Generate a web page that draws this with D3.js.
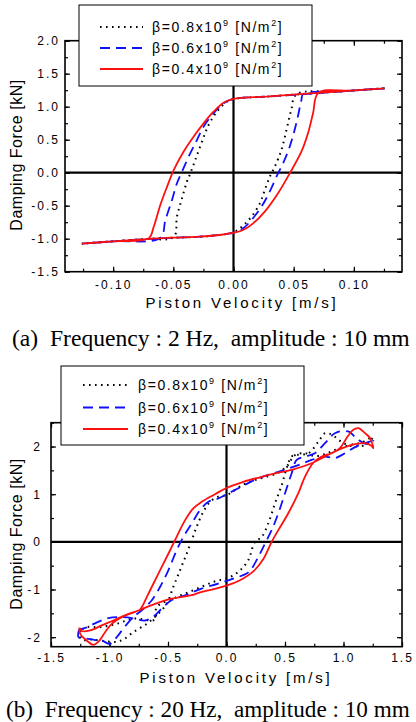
<!DOCTYPE html>
<html>
<head>
<meta charset="utf-8">
<script src="https://cdn.jsdelivr.net/npm/d3@7"></script>
<style>
body{margin:0;background:#fff;}
svg{display:block;}
</style>
</head>
<body>
<svg id="fig" width="416" height="722"></svg>
<script>
// series comunes
const betas = ["0.8", "0.6", "0.4"];
const colores = ["#000000", "#1010ff", "#ff1010"];
const trazos = ["1.6,4.4", "10,6", null];

// (a) 2 Hz : [velocidad m/s, fuerza kN]
const ticksXa = [-0.10, -0.05, 0.00, 0.05, 0.10];
const etiqXa = ["-0.10", "-0.05", "0.00", "0.05", "0.10"];
const ticksYa = [-1.5, -1.0, -0.5, 0.0, 0.5, 1.0, 1.5, 2.0];
const etiqYa = ["-1.5", "-1.0", "-0.5", "0.0", "0.5", "1.0", "1.5", "2.0"];

const a08 = [[0.1255,1.279],[0.09,1.233],[0.0522,1.185],[0.048,0.95],[0.044,0.647],[0.0398,0.344],
  [0.0343,0.09],[0.0302,-0.06],[0.026,-0.262],[0.0219,-0.464],[0.0149,-0.667],[0.008,-0.8],[0,-0.905],
  [-0.01,-0.94],[-0.028,-0.97],[-0.05,-0.985],[-0.072,-1.005],[-0.1,-1.04],[-0.126,-1.075],
  [-0.1,-1.04],[-0.072,-1.005],[-0.0497,-0.975],[-0.047,-0.667],[-0.0428,-0.388],[-0.0387,-0.136],
  [-0.0359,-0.01],[-0.0318,0.192],[-0.0262,0.47],[-0.0207,0.723],[-0.0138,0.924],[-0.0055,1.076],
  [0,1.117],[0.03,1.155],[0.0522,1.185],[0.09,1.233],[0.1255,1.279]];

const a06 = [[0.1255,1.279],[0.09,1.233],[0.0578,1.19],[0.0564,1.1],[0.0522,0.748],[0.0467,0.394],
  [0.0412,0.142],[0.037,-0.01],[0.0301,-0.288],[0.0232,-0.515],[0.0149,-0.717],[0.008,-0.843],[0,-0.909],
  [-0.01,-0.94],[-0.028,-0.97],[-0.05,-0.985],[-0.072,-1.005],[-0.1,-1.04],[-0.126,-1.075],
  [-0.1,-1.04],[-0.0608,-0.985],[-0.0566,-0.717],[-0.0511,-0.414],[-0.047,-0.16],[-0.0428,0.015],
  [-0.0373,0.242],[-0.0304,0.495],[-0.0249,0.697],[-0.0166,0.9],[-0.0083,1.05],
  [0,1.117],[0.03,1.155],[0.0578,1.19],[0.09,1.233],[0.1255,1.279]];

const a04 = [[0.1255,1.279],[0.098,1.245],[0.0705,1.21],[0.0661,0.9],[0.0619,0.597],[0.0564,0.318],
  [0.0467,-0.01],[0.037,-0.312],[0.026,-0.59],[0.0163,-0.767],[0.008,-0.868],[0,-0.909],
  [-0.01,-0.94],[-0.028,-0.97],[-0.05,-0.985],[-0.072,-1.005],[-0.1,-1.04],[-0.126,-1.075],
  [-0.1,-1.04],[-0.0705,-0.995],[-0.0663,-0.818],[-0.0608,-0.489],[-0.0552,-0.212],[-0.0497,0.04],
  [-0.0415,0.318],[-0.0332,0.545],[-0.0249,0.748],[-0.0166,0.924],[-0.0083,1.06],
  [0,1.117],[0.03,1.155],[0.0705,1.21],[0.098,1.245],[0.1255,1.279]];

// (b) 20 Hz
const ticksXb = [-1.5, -1.0, -0.5, 0.0, 0.5, 1.0, 1.5];
const etiqXb = ["-1.5", "-1.0", "-0.5", "0.0", "0.5", "1.0", "1.5"];
const ticksYb = [-2, -1, 0, 1, 2];
const etiqYb = ["-2", "-1", "0", "1", "2"];

const b08 = [[-1.252,-1.86],[-1.238,-2.05],[-1.15,-2.05],[-1.05,-2.08],[-0.95,-2.1],[-0.882,-2.05],
  [-0.797,-1.895],[-0.682,-1.72],[-0.597,-1.54],[-0.511,-1.3],[-0.455,-0.947],[-0.397,-0.596],
  [-0.34,-0.245],[-0.297,0.036],[-0.255,0.316],[-0.198,0.63],[-0.141,0.84],[-0.07,0.947],[0,0.98],
  [0.144,1.2],[0.286,1.33],[0.443,1.45],[0.52,1.6],[0.585,1.82],[0.671,1.86],[0.756,1.8],[0.85,1.85],
  [0.95,1.95],[1.05,2.03],[1.15,2.08],[1.25,2.2],[1.2,2.05],[1.1,2.0],[1.0,2.07],[0.9,2.25],[0.842,2.28],
  [0.785,2.1],[0.7,1.86],[0.6,1.82],[0.557,1.79],[0.514,1.545],[0.472,1.19],[0.415,0.81],[0.357,0.387],
  [0.3,0.1],[0.244,0],[0.186,-0.385],[0.115,-0.6],[0.03,-0.737],[-0.113,-0.842],[-0.284,-1.017],
  [-0.455,-1.19],[-0.597,-1.37],[-0.611,-1.63],[-0.797,-1.61],[-0.938,-1.72],[-1.081,-1.79],
  [-1.195,-1.79],[-1.252,-1.86]];

const b06 = [[-1.26,-1.84],[-1.265,-2.0],[-1.2,-2.03],[-1.12,-2.06],[-1.067,-2.07],[-0.996,-2.14],
  [-0.938,-2.0],[-0.882,-1.82],[-0.797,-1.58],[-0.726,-1.44],[-0.64,-1.23],[-0.568,-0.947],
  [-0.497,-0.596],[-0.426,-0.175],[-0.369,0.105],[-0.297,0.386],[-0.226,0.667],[-0.155,0.84],
  [-0.07,0.91],[0.015,1.017],[0.13,1.16],[0.272,1.335],[0.443,1.47],[0.614,1.61],[0.728,1.72],
  [0.842,1.79],[0.927,1.76],[1.013,1.86],[1.098,1.987],[1.184,2.07],[1.255,2.126],[1.2,2.05],
  [1.12,2.15],[1.041,2.316],[0.927,2.28],[0.842,2.07],[0.756,1.86],[0.671,1.79],[0.6,1.72],
  [0.557,1.44],[0.5,1.02],[0.443,0.6],[0.386,0.246],[0.329,-0.035],[0.272,-0.316],[0.215,-0.56],
  [0.172,-0.665],[0.058,-0.77],[-0.07,-0.876],[-0.212,-0.98],[-0.355,-1.12],[-0.468,-1.22],
  [-0.554,-1.4],[-0.611,-1.54],[-0.697,-1.65],[-0.782,-1.61],[-0.896,-1.58],[-1.01,-1.6],
  [-1.124,-1.71],[-1.2,-1.8],[-1.26,-1.84]];

const b04 = [[-1.258,-1.8],[-1.25,-1.93],[-1.195,-2.07],[-1.138,-2.16],[-1.096,-2.1],[-1.038,-1.895],
  [-0.981,-1.72],[-0.896,-1.58],[-0.782,-1.47],[-0.739,-1.42],[-0.668,-1.09],[-0.583,-0.67],
  [-0.497,-0.25],[-0.44,0.036],[-0.355,0.45],[-0.284,0.703],[-0.212,0.84],[-0.098,1.0],[0,1.13],
  [0.144,1.26],[0.286,1.355],[0.443,1.45],[0.557,1.51],[0.728,1.65],[0.842,1.79],[0.956,1.93],
  [1.07,2.036],[1.184,2.07],[1.241,2.01],[1.255,1.966],[1.226,2.18],[1.184,2.28],[1.127,2.387],
  [1.084,2.35],[1.027,2.18],[0.97,1.966],[0.899,1.86],[0.814,1.79],[0.742,1.66],[0.671,1.37],
  [0.614,1.02],[0.528,0.6],[0.443,0.246],[0.386,0],[0.315,-0.36],[0.229,-0.62],[0.115,-0.806],
  [0,-0.92],[-0.126,-1.0],[-0.226,-1.06],[-0.297,-1.12],[-0.468,-1.19],[-0.611,-1.3],[-0.754,-1.44],
  [-0.868,-1.54],[-0.967,-1.65],[-1.067,-1.754],[-1.167,-1.86],[-1.238,-1.87],[-1.258,-1.8]];

const svg = d3.select("#fig");
const fuente = "Arial, 'Liberation Sans', sans-serif";

const grafica = (cfg) => {
  const x = d3.scaleLinear().domain(cfg.domX).range([cfg.izq, cfg.der]);
  const y = d3.scaleLinear().domain(cfg.domY).range([cfg.abajo, cfg.arriba]);
  const g = svg.append("g");

  // ticks menores, hacia adentro
  g.append("g").attr("transform", `translate(0,${cfg.abajo})`)
    .call(d3.axisBottom(x).tickValues(cfg.menX).tickSize(-3).tickSizeOuter(0).tickFormat(""));
  g.append("g").attr("transform", `translate(0,${cfg.arriba})`)
    .call(d3.axisTop(x).tickValues(cfg.menX).tickSize(-3).tickSizeOuter(0).tickFormat(""));
  g.append("g").attr("transform", `translate(${cfg.izq},0)`)
    .call(d3.axisLeft(y).tickValues(cfg.menY).tickSize(-3).tickSizeOuter(0).tickFormat(""));
  g.append("g").attr("transform", `translate(${cfg.der},0)`)
    .call(d3.axisRight(y).tickValues(cfg.menY).tickSize(-3).tickSizeOuter(0).tickFormat(""));

  // ticks mayores con etiquetas
  g.append("g").attr("transform", `translate(0,${cfg.abajo})`)
    .call(d3.axisBottom(x).tickValues(cfg.ticksX).tickSize(-5).tickSizeOuter(0)
      .tickPadding(cfg.padX).tickFormat((d, i) => cfg.etiqX[i]));
  g.append("g").attr("transform", `translate(0,${cfg.arriba})`)
    .call(d3.axisTop(x).tickValues(cfg.ticksX).tickSize(-5).tickSizeOuter(0).tickFormat(""));
  g.append("g").attr("transform", `translate(${cfg.izq},0)`)
    .call(d3.axisLeft(y).tickValues(cfg.ticksY).tickSize(-5).tickSizeOuter(0)
      .tickPadding(cfg.padY).tickFormat((d, i) => cfg.etiqY[i]));
  g.append("g").attr("transform", `translate(${cfg.der},0)`)
    .call(d3.axisRight(y).tickValues(cfg.ticksY).tickSize(-5).tickSizeOuter(0).tickFormat(""));

  g.selectAll(".domain").remove();
  g.selectAll(".tick line").attr("stroke", "#000").attr("stroke-width", 1.2);
  g.selectAll(".tick text").attr("fill", "#000")
    .style("font-family", fuente).style("font-size", "12px").style("letter-spacing", "2px");

  // lineas del cero
  g.append("line").attr("x1", x(0)).attr("x2", x(0)).attr("y1", y(cfg.domY[0])).attr("y2", y(cfg.domY[1]))
    .attr("stroke", "#000").attr("stroke-width", 2.2);
  g.append("line").attr("x1", x(cfg.domX[0])).attr("x2", x(cfg.domX[1])).attr("y1", y(0)).attr("y2", y(0))
    .attr("stroke", "#000").attr("stroke-width", 2.2);

  // curvas
  const linea = d3.line().x(d => x(d[0])).y(d => y(d[1])).curve(d3.curveCatmullRom.alpha(0.5));
  cfg.series.forEach((serie, i) => {
    g.append("path").datum(serie).attr("d", linea)
      .attr("fill", "none").attr("stroke", colores[i]).attr("stroke-width", i == 0 ? 2 : 1.8)
      .attr("stroke-dasharray", trazos[i]);
  });

  // marco
  g.append("rect").attr("x", cfg.izq).attr("y", cfg.arriba)
    .attr("width", cfg.der - cfg.izq).attr("height", cfg.abajo - cfg.arriba)
    .attr("fill", "none").attr("stroke", "#000").attr("stroke-width", 1.6);

  // leyenda
  const L = cfg.leyenda;
  g.append("rect").attr("x", L.x).attr("y", L.y).attr("width", L.w).attr("height", L.h)
    .attr("fill", "#fff").attr("stroke", "#000").attr("stroke-width", 1);
  betas.forEach((b, i) => {
    const fy = L.filas[i];
    g.append("line").attr("x1", L.l1).attr("x2", L.l2).attr("y1", fy).attr("y2", fy)
      .attr("stroke", colores[i]).attr("stroke-width", 2).attr("stroke-dasharray", trazos[i]);
    const t = g.append("text").attr("x", L.tx).attr("y", fy + 5)
      .style("font-family", fuente).style("font-size", "14px").style("letter-spacing", "1.6px");
    t.append("tspan").text("\u03b2=" + b + "x10");
    t.append("tspan").attr("dy", -6).style("font-size", "9px").text("9");
    t.append("tspan").attr("dy", 6).text(" [N/m");
    t.append("tspan").attr("dy", -6).style("font-size", "9px").text("2");
    t.append("tspan").attr("dy", 6).text("]");
  });

  // titulos de ejes
  g.append("text").attr("x", cfg.xt[0]).attr("y", cfg.xt[1]).attr("text-anchor", "middle")
    .style("font-family", fuente).style("font-size", "15px").style("letter-spacing", "2.8px")
    .text("Piston Velocity [m/s]");
  g.append("text").attr("transform", `translate(${cfg.yt[0]},${cfg.yt[1]}) rotate(-90)`)
    .attr("text-anchor", "middle")
    .style("font-family", fuente).style("font-size", "16px").style("letter-spacing", "0.5px")
    .text("Damping Force [kN]");

  // pie
  g.append("text").attr("x", cfg.pie[0]).attr("y", cfg.pie[1])
    .style("font-family", "'Times New Roman', 'Liberation Serif', serif").style("font-size", cfg.pieTam + "px")
    .style("white-space", "pre").text(cfg.pieTexto);
};

const menoresA = d3.range(-0.125, 0.126, 0.025).map(v => +v.toFixed(3));
const menoresYA = d3.range(-1.5, 2.01, 0.25).map(v => +v.toFixed(2));
grafica({
  domX: [-0.14, 0.14], domY: [-1.5, 2.0],
  izq: 65, der: 402, arriba: 40.7, abajo: 271.7,
  ticksX: ticksXa, etiqX: etiqXa, menX: menoresA, padX: 9,
  ticksY: ticksYa, etiqY: etiqYa, menY: menoresYA, padY: 5,
  series: [a08, a06, a04],
  leyenda: {x: 79, y: 5, w: 233, h: 81, l1: 100, l2: 143, tx: 152, filas: [27, 48, 69]},
  xt: [242, 308], yt: [22, 155],
  pie: [12, 345.7], pieTam: 23.6, pieTexto: "(a)  Frequency : 2 Hz,  amplitude : 10 mm"
});

const menoresB = d3.range(-1.5, 1.51, 0.25).map(v => +v.toFixed(2));
const menoresYB = d3.range(-2, 2.51, 0.5).map(v => +v.toFixed(1));
grafica({
  domX: [-1.5, 1.5], domY: [-2.2, 2.5],
  izq: 51, der: 402, arriba: 422.7, abajo: 646.7,
  ticksX: ticksXb, etiqX: etiqXb, menX: menoresB, padX: 7,
  ticksY: ticksYb, etiqY: etiqYb, menY: menoresYB, padY: 9,
  series: [b08, b06, b04],
  leyenda: {x: 61, y: 366, w: 243, h: 79, l1: 83, l2: 128, tx: 138, filas: [385, 407.5, 429]},
  xt: [236, 683], yt: [22, 534],
  pie: [6, 716.7], pieTam: 23.2, pieTexto: "(b)  Frequency : 20 Hz,  amplitude : 10 mm"
});
</script>
</body>
</html>
